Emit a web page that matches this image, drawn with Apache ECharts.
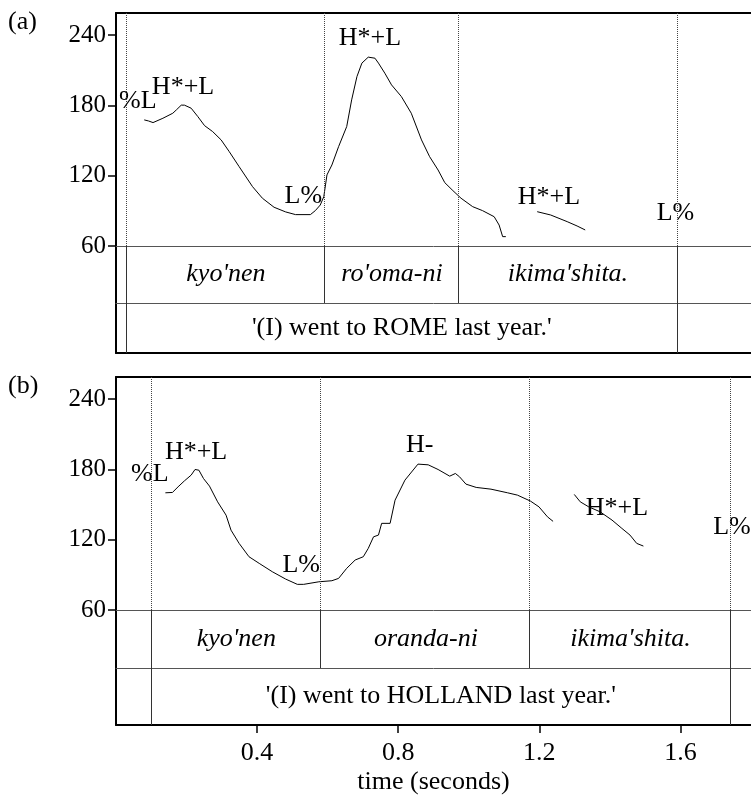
<!DOCTYPE html>
<html>
<head>
<meta charset="utf-8">
<script src="https://cdn.jsdelivr.net/npm/echarts@6/dist/echarts.min.js"></script>
<style>
  html, body { margin: 0; padding: 0; background: #fff; }
  #c { width: 751px; height: 796px; }
</style>
</head>
<body>
<div id="c"></div>
<script>
// ---- data -------------------------------------------------------------
const panelLabels = ['(a)', '(b)'];
const yTicks = [60, 120, 180, 240];
const xTicks = [0.4, 0.8, 1.2, 1.6];
const timeAxisName = 'time (seconds)';

// F0 contours, [time (s), F0 (Hz)]
const romeF0a = [[0.080,167.7],[0.092,166.8],[0.105,165.4],[0.133,169.1],[0.161,173.4],[0.171,176.2],[0.185,180.3],[0.194,180.3],[0.213,177.7],[0.232,170.5],[0.251,162.8],[0.274,157.7],[0.298,150.6],[0.321,140.6],[0.349,127.8],[0.387,110.7],[0.415,100.8],[0.448,93.1],[0.481,89.1],[0.509,86.8],[0.551,86.8],[0.565,90.2],[0.579,95.0],[0.589,102.1],[0.598,120.7],[0.612,129.2],[0.631,144.9],[0.654,162.0],[0.668,184.8],[0.683,204.7],[0.697,216.2],[0.715,221.3],[0.734,220.4],[0.744,216.2],[0.762,207.6],[0.781,197.6],[0.809,187.6],[0.837,173.4],[0.866,150.6],[0.889,136.3],[0.913,124.9],[0.932,114.1],[0.955,107.3],[0.978,100.8],[1.011,93.6],[1.039,90.2],[1.072,85.0],[1.086,77.9],[1.096,68.0],[1.105,68.0]];
const romeF0b = [[1.194,89.3],[1.232,86.5],[1.279,80.8],[1.307,77.1],[1.330,73.7]];

const hollandF0a = [[0.140,160.1],[0.160,160.4],[0.176,165.2],[0.194,170.3],[0.213,175.2],[0.224,180.0],[0.235,179.4],[0.248,172.3],[0.265,165.8],[0.288,152.4],[0.312,141.0],[0.326,128.2],[0.349,116.9],[0.377,105.5],[0.406,99.8],[0.443,92.7],[0.481,86.4],[0.514,81.9],[0.532,81.9],[0.575,84.1],[0.612,85.0],[0.631,87.0],[0.654,95.6],[0.678,102.7],[0.701,105.5],[0.715,112.6],[0.730,122.5],[0.744,124.0],[0.753,134.0],[0.777,134.0],[0.791,153.8],[0.819,170.9],[0.856,184.6],[0.885,184.0],[0.913,180.0],[0.946,174.3],[0.962,176.6],[0.974,173.7],[0.992,167.5],[1.021,164.7],[1.063,163.2],[1.110,160.1],[1.138,158.1],[1.175,153.0],[1.199,148.1],[1.223,139.6],[1.239,135.7]];
const hollandF0b = [[1.299,158.7],[1.316,152.4],[1.340,148.1],[1.372,143.9],[1.406,136.8],[1.434,129.7],[1.457,124.0],[1.476,116.9],[1.495,114.6]];

// tone labels and where they sit (time s, Hz)
const romeTones     = ['%L', 'H*+L', 'H*+L', 'L%', 'H*+L', 'L%'];
const romeToneT     = [0.062, 0.190, 0.720, 0.531, 1.227, 1.586];
const romeToneHz    = [183.8, 195.8, 237.6, 102.7, 101.8, 88.2];
const hollandTones  = ['%L', 'H*+L', 'L%', 'H-', 'H*+L', 'L%'];
const hollandToneT  = [0.096, 0.227, 0.525, 0.861, 1.420, 1.746];
const hollandToneHz = [176.2, 194.9, 98.4, 200.9, 147.1, 130.9];

// word boundaries (s), words and gloss
const romeBounds    = [0.033, 0.590, 0.975, 1.587];
const romeWords     = ["kyo'nen", "ro'oma-ni", "ikima'shita."];
const romeGloss     = "'(I) went to ROME last year.'";
const hollandBounds = [0.098, 0.584, 1.173, 1.744];
const hollandWords  = ["kyo'nen", "oranda-ni", "ikima'shita."];
const hollandGloss  = "'(I) went to HOLLAND last year.'";

// ---- layout -----------------------------------------------------------
const FONT = "'Liberation Serif', 'Times New Roman', serif";
const FS = 26;
const X_MAX = 1.8;
const LEFT = 116, WIDTH = 639, PITCH_H = 233;
const Y_MIN = 60, Y_MAX = 259;

const grid = [], xAxis = [], yAxis = [], series = [];

const hiddenAxisParts = {
  axisTick: { show: false }, axisLabel: { show: false }, splitLine: { show: false }
};

function thickLine() { return { show: true, onZero: false, lineStyle: { color: '#000', width: 2 } }; }
function thinLine()  { return { show: true, onZero: false, lineStyle: { color: '#555', width: 1 } }; }

function vLines(values, style) {
  return {
    silent: true, symbol: ['none', 'none'], animation: false,
    label: { show: false },
    lineStyle: style,
    data: values.map(v => ({ xAxis: v }))
  };
}

function addPanel(top, tier1H, tier2H, f0Parts, tones, toneT, toneHz, bounds, words, gloss, withTime) {
  const g0 = grid.length, x0 = xAxis.length, y0 = yAxis.length;

  grid.push({ left: LEFT, width: WIDTH, top: top, height: PITCH_H });
  grid.push({ left: LEFT, width: WIDTH, top: top + PITCH_H, height: tier1H });
  grid.push({ left: LEFT, width: WIDTH, top: top + PITCH_H + tier1H, height: tier2H });

  // pitch area: frame top
  xAxis.push(Object.assign({ type: 'value', gridIndex: g0, position: 'top', min: 0, max: X_MAX,
    axisLine: thickLine() }, hiddenAxisParts));
  // tier rows: thin separators on top
  xAxis.push(Object.assign({ type: 'value', gridIndex: g0 + 1, position: 'top', min: 0, max: X_MAX,
    axisLine: thinLine() }, hiddenAxisParts));
  xAxis.push(Object.assign({ type: 'value', gridIndex: g0 + 2, position: 'top', min: 0, max: X_MAX,
    axisLine: thinLine() }, hiddenAxisParts));
  // frame bottom / time axis
  const bottom = {
    type: 'value', gridIndex: g0 + 2, position: 'bottom', min: 0, max: X_MAX,
    axisLine: thickLine(), splitLine: { show: false },
    axisTick: { show: withTime, customValues: xTicks, length: 8, lineStyle: { color: '#000', width: 1.5 } },
    axisLabel: { show: withTime, customValues: xTicks, margin: 15,
      formatter: v => v.toFixed(1), color: '#000', fontSize: FS, fontFamily: FONT }
  };
  if (withTime) {
    Object.assign(bottom, { name: timeAxisName, nameLocation: 'middle', nameGap: 44,
      nameTextStyle: { color: '#000', fontSize: FS, fontFamily: FONT } });
  }
  xAxis.push(bottom);

  yAxis.push({
    type: 'value', gridIndex: g0, min: Y_MIN, max: Y_MAX,
    axisLine: thickLine(), splitLine: { show: false },
    axisTick: { show: true, customValues: yTicks, length: 8, lineStyle: { color: '#000', width: 1.5 } },
    axisLabel: { customValues: yTicks, margin: 10, color: '#000', fontSize: 25, fontFamily: FONT }
  });
  yAxis.push(Object.assign({ type: 'value', gridIndex: g0 + 1, min: 0, max: 1, axisLine: thickLine() }, hiddenAxisParts));
  yAxis.push(Object.assign({ type: 'value', gridIndex: g0 + 2, min: 0, max: 1, axisLine: thickLine() }, hiddenAxisParts));

  // F0 contours
  f0Parts.forEach(part => series.push({
    type: 'line', xAxisIndex: x0, yAxisIndex: y0, data: part,
    showSymbol: false, smooth: false, silent: true,
    itemStyle: { color: '#000' },
    lineStyle: { color: '#000', width: 1 }
  }));

  const textLabel = {
    show: true, position: 'inside', formatter: p => p.name,
    color: '#000', opacity: 1, fontSize: FS, fontFamily: FONT,
    textBorderWidth: 0, textBorderColor: 'transparent'
  };
  const textItem = { color: '#000', opacity: 1 };

  // tone labels + dotted boundaries through the pitch area
  series.push({
    type: 'scatter', xAxisIndex: x0, yAxisIndex: y0, symbolSize: 0, silent: true,
    itemStyle: textItem,
    data: tones.map((t, i) => ({ name: t, value: [toneT[i], toneHz[i]] })),
    label: textLabel,
    markLine: vLines(bounds, { color: '#444', width: 1, type: 'dotted' })
  });

  // word tier
  series.push({
    type: 'scatter', xAxisIndex: x0 + 1, yAxisIndex: y0 + 1, symbolSize: 0, silent: true,
    itemStyle: textItem,
    data: words.map((w, i) => ({ name: w, value: [(bounds[i] + bounds[i + 1]) / 2, 0.5] })),
    label: Object.assign({}, textLabel, { fontStyle: 'italic' }),
    markLine: vLines(bounds, { color: '#333', width: 1, type: 'solid' })
  });

  // gloss tier
  const ends = [bounds[0], bounds[bounds.length - 1]];
  series.push({
    type: 'scatter', xAxisIndex: x0 + 2, yAxisIndex: y0 + 2, symbolSize: 0, silent: true,
    itemStyle: textItem,
    data: [{ name: gloss, value: [(ends[0] + ends[1]) / 2, 0.5] }],
    label: textLabel,
    markLine: vLines(ends, { color: '#333', width: 1, type: 'solid' })
  });
}

addPanel(13, 57, 50, [romeF0a, romeF0b], romeTones, romeToneT, romeToneHz,
  romeBounds, romeWords, romeGloss, false);
addPanel(377, 58, 58, [hollandF0a, hollandF0b], hollandTones, hollandToneT, hollandToneHz,
  hollandBounds, hollandWords, hollandGloss, true);

const chart = echarts.init(document.getElementById('c'));
chart.setOption({
  animation: false,
  backgroundColor: '#fff',
  title: [
    { text: panelLabels[0], left: 3, top: 4 },
    { text: panelLabels[1], left: 3, top: 368 }
  ].map(t => Object.assign(t, { textStyle: { color: '#000', fontSize: FS, fontWeight: 'normal', fontFamily: FONT } })),
  grid, xAxis, yAxis, series
});
</script>
</body>
</html>
